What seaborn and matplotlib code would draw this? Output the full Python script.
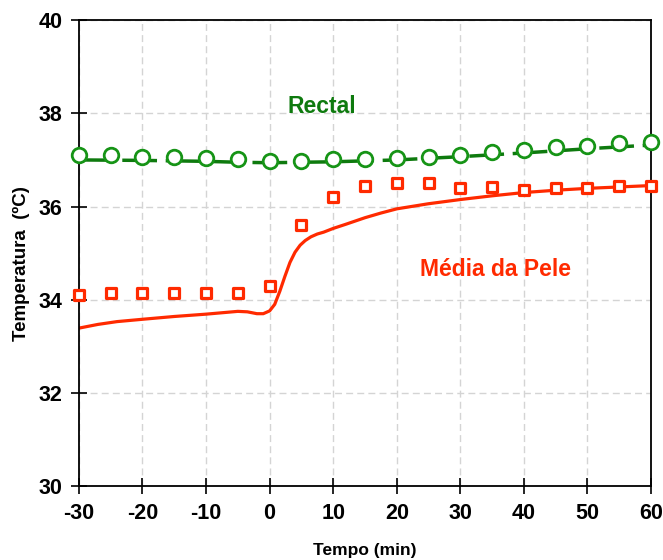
import matplotlib
matplotlib.use("Agg")
import matplotlib.pyplot as plt
import seaborn as sns
import pandas as pd

# Measured points (every 5 min)
tempo_pontos = [-30, -25, -20, -15, -10, -5, 0, 5, 10, 15, 20, 25, 30, 35, 40, 45, 50, 55, 60]
rectal_medido = [37.10, 37.10, 37.06, 37.06, 37.04, 37.02, 36.97, 36.97, 37.02, 37.02,
                 37.04, 37.06, 37.10, 37.17, 37.21, 37.27, 37.30, 37.36, 37.38]
pele_medido = [34.10, 34.15, 34.15, 34.15, 34.15, 34.15, 34.30, 35.60, 36.20, 36.45,
               36.50, 36.50, 36.40, 36.42, 36.35, 36.40, 36.40, 36.45, 36.45]

# Model curves
tempo_rectal_modelo = [-30, -20, -10, -5, 0, 5, 10, 20, 30, 40, 50, 60]
rectal_modelo = [37.00, 36.99, 36.97, 36.95, 36.94, 36.95, 36.96, 37.00, 37.07, 37.15, 37.24, 37.32]

tempo_pele_modelo = [-30, -27, -24, -20, -15, -10, -5, -3.5, -2, -1, 0, 0.8, 1.6, 2.4, 3.2,
                     4, 4.8, 5.6, 6.5, 7.5, 8.5, 10, 12, 15, 17.5, 20, 25, 30, 35, 40, 45,
                     50, 55, 60]
pele_modelo = [33.39, 33.47, 33.53, 33.58, 33.64, 33.69, 33.75, 33.74, 33.70, 33.70, 33.76,
               33.90, 34.18, 34.50, 34.80, 35.02, 35.17, 35.27, 35.35, 35.41, 35.45, 35.53,
               35.62, 35.76, 35.86, 35.95, 36.06, 36.15, 36.23, 36.30, 36.35, 36.39, 36.42,
               36.45]

tick_x = [-30, -20, -10, 0, 10, 20, 30, 40, 50, 60]
tick_y = [30, 32, 34, 36, 38, 40]

VERDE = "#169416"
VERDE_LINHA = "#0e7a0e"
VERMELHO = "#ff2a00"

sns.set_style("white")
plt.rcParams["font.family"] = ["Liberation Sans", "DejaVu Sans"]
plt.rcParams["axes.unicode_minus"] = False

fig = plt.figure(figsize=(6.63, 5.6), dpi=100)
ax = fig.add_axes([0.119, 0.132, 0.863, 0.832])

ax.grid(True, color="#d4d4d4", linestyle=(0, (5, 3)), linewidth=1.0)
ax.set_axisbelow(True)

df_rm = pd.DataFrame({"t": tempo_rectal_modelo, "v": rectal_modelo})
df_pm = pd.DataFrame({"t": tempo_pele_modelo, "v": pele_modelo})
df_r = pd.DataFrame({"t": tempo_pontos, "v": rectal_medido})
df_p = pd.DataFrame({"t": tempo_pontos, "v": pele_medido})

sns.lineplot(data=df_rm, x="t", y="v", ax=ax, color=VERDE_LINHA, linewidth=2.5,
             linestyle=(0, (10, 2.5)), zorder=2)
sns.lineplot(data=df_pm, x="t", y="v", ax=ax, color=VERMELHO, linewidth=2.3, zorder=2)
sns.scatterplot(data=df_r, x="t", y="v", ax=ax, marker="o", s=110, facecolor="white",
                edgecolor=VERDE, linewidth=2.0, zorder=3, clip_on=False)
sns.scatterplot(data=df_p, x="t", y="v", ax=ax, marker="s", s=60, facecolor="white",
                edgecolor=VERMELHO, linewidth=2.3, zorder=3, clip_on=False)

ax.set_xlim(-30, 60)
ax.set_ylim(30, 40)
ax.set_xticks(tick_x)
ax.set_yticks(tick_y)
ax.tick_params(axis="both", direction="inout", length=12, width=1.2, color="black",
               labelcolor="black", labelsize=15.5, pad=6, bottom=True, left=True)
for lbl in ax.get_xticklabels() + ax.get_yticklabels():
    lbl.set_fontweight("bold")

for s in ax.spines.values():
    s.set_visible(True)
    s.set_color("black")
    s.set_linewidth(1.3)

ax.set_xlabel("Tempo (min)", fontsize=12.5, fontweight="bold", color="black", labelpad=14)
ax.set_ylabel("Temperatura  (ºC)", fontsize=13.5, fontweight="bold", color="black")
ax.yaxis.set_label_coords(-0.085, 0.478)

ax.text(8.2, 38.15, "Rectal", color=VERDE_LINHA, fontsize=16.5, fontweight="bold",
        ha="center", va="center")
ax.text(35.5, 34.64, "Média da Pele", color=VERMELHO, fontsize=16.5, fontweight="bold",
        ha="center", va="center")

fig.savefig("out.png", dpi=100)
